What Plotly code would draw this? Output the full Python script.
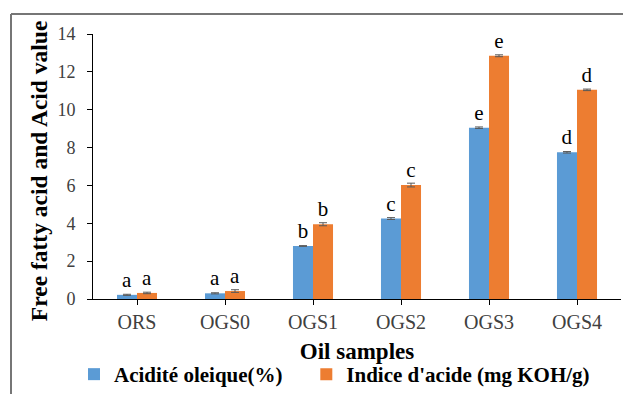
import plotly.graph_objects as go

categories = ["ORS", "OGS0", "OGS1", "OGS2", "OGS3", "OGS4"]
acidite = [0.22, 0.30, 2.80, 4.25, 9.05, 7.75]
acidite_err = [0.03, 0.03, 0.02, 0.05, 0.04, 0.04]
indice = [0.32, 0.42, 3.95, 6.02, 12.85, 11.05]
indice_err = [0.04, 0.07, 0.08, 0.10, 0.05, 0.04]
letters_acidite = ["a", "a", "b", "c", "e", "d"]
letters_indice = ["a", "a", "b", "c", "e", "d"]
yticks = [0, 2, 4, 6, 8, 10, 12, 14]

serif = "Liberation Serif, serif"

fig = go.Figure()
fig.add_trace(go.Bar(
    x=categories, y=acidite, name="Acidité oleique(%)",
    marker=dict(color="#5B9BD5", line=dict(width=0)),
    error_y=dict(type="data", array=acidite_err, color="#595959", thickness=1, width=4),
    text=letters_acidite, textposition="outside",
    textfont=dict(family=serif, size=21, color="#000000"),
    cliponaxis=False, legend="legend",
))
fig.add_trace(go.Bar(
    x=categories, y=indice, name="Indice d'acide (mg KOH/g)",
    marker=dict(color="#ED7D31", line=dict(width=0)),
    error_y=dict(type="data", array=indice_err, color="#595959", thickness=1, width=4),
    text=letters_indice, textposition="outside",
    textfont=dict(family=serif, size=21, color="#000000"),
    cliponaxis=False, legend="legend2",
))

legend_font = dict(family=serif, size=21, color="#000000", weight="bold")

fig.update_layout(
    width=623, height=394,
    margin=dict(l=93, r=2, t=34, b=95, autoexpand=False),
    paper_bgcolor="white", plot_bgcolor="white",
    barmode="group", bargap=0.545, bargroupgap=0,
    font=dict(family=serif, color="#404040", size=18),
    showlegend=True,
    legend=dict(
        orientation="h", x=-0.036, xanchor="left", y=-96/265, yanchor="bottom",
        font=legend_font, itemwidth=30, bgcolor="rgba(0,0,0,0)",
    ),
    legend2=dict(
        orientation="h", x=0.404, xanchor="left", y=-96/265, yanchor="bottom",
        font=legend_font, itemwidth=30, bgcolor="rgba(0,0,0,0)",
    ),
    xaxis=dict(
        showline=True, linecolor="#000000", linewidth=1,
        ticks="outside", ticklen=5, tickcolor="#000000",
        tickfont=dict(family=serif, size=20, color="#404040"),
        ticklabelstandoff=0,
        title=dict(text="Oil samples", font=dict(family=serif, size=23, color="#000000", weight="bold"), standoff=10),
    ),
    yaxis=dict(
        range=[0, 14], tickvals=yticks, showgrid=False, zeroline=False,
        showline=True, linecolor="#000000", linewidth=1,
        ticks="outside", ticklen=5, tickcolor="#000000",
        tickfont=dict(family=serif, size=18, color="#404040"),
        ticklabelstandoff=8,
    ),
    annotations=[dict(
        text="Free fatty acid and Acid value", textangle=-90,
        xref="paper", yref="paper", x=-0.102, y=0.483, xanchor="center", yanchor="middle",
        showarrow=False, font=dict(family=serif, size=23.5, color="#000000", weight="bold"),
    )],
    shapes=[
        dict(type="line", xref="paper", yref="paper", x0=-82/528, x1=1.01, y0=1+20/265, y1=1+20/265,
             line=dict(color="#767676", width=2)),
        dict(type="line", xref="paper", yref="paper", x0=-82/528, x1=-82/528, y0=1+20/265, y1=-95/265 - 0.01,
             line=dict(color="#767676", width=2)),
    ],
)

fig.write_html("out.html", config={"displayModeBar": False},
               post_script="document.body.style.margin='0';document.body.style.overflow='hidden';")
